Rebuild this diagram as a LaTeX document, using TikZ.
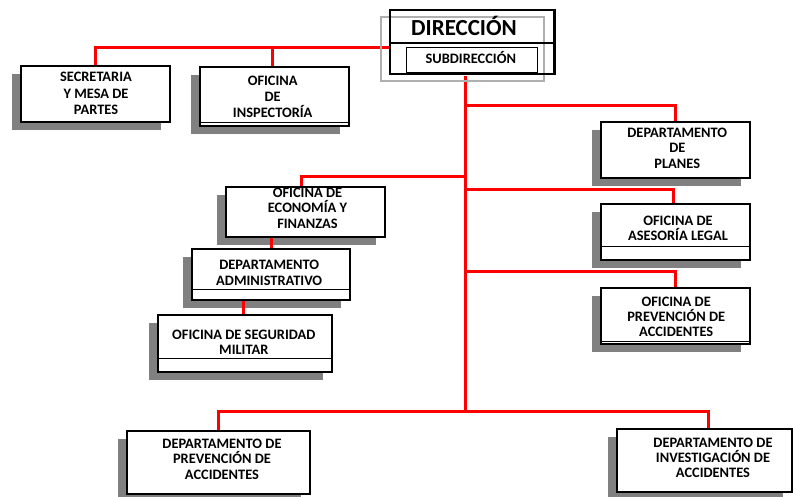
\documentclass[tikz,border=0pt]{standalone}
\usepackage{fontspec}
\setmainfont{Carlito}
\usetikzlibrary{shadows,backgrounds}
\definecolor{linkred}{RGB}{255,0,0}
\definecolor{shade}{RGB}{128,128,128}
\definecolor{framegray}{RGB}{175,175,175}
\begin{document}
\begin{tikzpicture}[x=1pt,y=-1pt,
  unit/.style={draw=black, line width=1.3pt, fill=white, inner sep=0pt,
    drop shadow={shadow xshift=-9pt, shadow yshift=-8pt, fill=shade, opacity=1}},
  caption/.style={align=center, inner sep=0pt, anchor=base,
    font=\fontsize{14.4}{#1}\selectfont\bfseries},
  caption/.default=15.5,
  link/.style={draw=linkred, line width=3pt, line cap=rect},
  rule/.style={line width=0.8pt}]
\useasboundingbox (0,0) rectangle (793,497);

% head office
\node[draw=framegray, line width=1.3pt, minimum width=163pt, minimum height=64pt, inner sep=0pt] (dirg) at (462.5,49) {};
\node[draw, line width=1.6pt, minimum width=165pt, minimum height=64pt, inner sep=0pt] (dir) at (472.5,42) {};
\draw[line width=1.2pt] ([yshift=-1pt]dir.west) -- ([yshift=-1pt]dir.east);
\draw[line width=1.3pt] ([xshift=-2.5pt]dir.north east) -- ([xshift=-2.5pt]dir.south east);
\node[draw, line width=1pt, minimum width=131pt, minimum height=25pt, inner sep=0pt] (sub) at (471.5,60.5) {};
\node[anchor=base, inner sep=0pt, font=\fontsize{23}{25}\selectfont\bfseries] (dirT) at (464,36) {DIRECCIÓN};
\node[caption] (subT) at (470.8,63.3) {SUBDIRECCIÓN};

% units
\node[unit, minimum width=149pt, minimum height=56pt] (sec) at (95.5,94) {};
\node[unit, minimum width=149pt, minimum height=59pt] (insp) at (274.5,96.5) {};
\node[unit, minimum width=149pt, minimum height=56pt] (plan) at (675.5,150) {};
\node[unit, minimum width=149pt, minimum height=56pt] (ases) at (675.5,232) {};
\node[unit, minimum width=149pt, minimum height=56pt] (prev) at (675.5,316) {};
\node[unit, minimum width=159pt, minimum height=50pt] (econ) at (305.5,212) {};
\node[unit, minimum width=158pt, minimum height=51pt] (admin) at (271,274.5) {};
\node[unit, minimum width=174pt, minimum height=57pt] (seg) at (245,343.5) {};
\node[unit, minimum width=183pt, minimum height=63pt] (dprev) at (218.5,462.5) {};
\node[unit, minimum width=175pt, minimum height=63pt] (dinv) at (704.5,460.5) {};

% inner rules near the lower edges
\draw[rule] ([yshift=4pt]insp.south west) -- ([yshift=4pt]insp.south east);
\draw[rule] ([yshift=14pt]ases.south west) -- ([yshift=14pt]ases.south east);
\draw[rule] ([yshift=3pt]prev.south west) -- ([yshift=3pt]prev.south east);
\draw[rule] ([yshift=11pt]admin.south west) -- ([yshift=11pt]admin.south east);
\draw[rule] ([yshift=14pt]seg.south west) -- ([yshift=14pt]seg.south east);

% labels (anchored on the baseline of their last line)
\node[caption=16.5] (secT) at (96,115) {SECRETARIA\\Y MESA DE\\PARTES};
\node[caption=16] (inspT) at (272.7,117.7) {OFICINA\\DE\\INSPECTORÍA};
\node[caption] (planT) at (677.3,168.3) {DEPARTAMENTO\\DE\\PLANES};
\node[caption=15] (asesT) at (678,240.7) {OFICINA DE\\ASESORÍA LEGAL};
\node[caption=15] (prevT) at (676.2,336.7) {OFICINA DE\\PREVENCIÓN DE\\ACCIDENTES};
\node[caption=15.5] (econT) at (307.5,228.3) {OFICINA DE\\ECONOMÍA Y\\FINANZAS};
\node[caption=16] (adminT) at (269.2,286) {DEPARTAMENTO\\ADMINISTRATIVO};
\node[caption=15] (segT) at (243.8,354) {OFICINA DE SEGURIDAD\\MILITAR};
\node[caption=15.3] (dprevT) at (222,479) {DEPARTAMENTO DE\\PREVENCIÓN DE\\ACCIDENTES};
\node[caption=15.3] (dinvT) at (713,477.7) {DEPARTAMENTO DE\\INVESTIGACIÓN DE\\ACCIDENTES};

% short links between stacked units, over the shadows
\draw[link, line cap=butt] (admin.north) -- (admin.north |- econ.south);
\draw[link, line cap=butt] ([xshift=-2pt]seg.north) -- ([xshift=-2pt]seg.north |- admin.south);

% main connectors
\coordinate (trunkTop) at (465,78);
\coordinate (trunkEnd) at (465,411);
\coordinate (jPlan) at (465,106);
\coordinate (jEcon) at (465,177);
\coordinate (jAses) at (465,190);
\coordinate (jPrev) at (465,272);
\begin{scope}[on background layer]
\fill[white] (0,0) rectangle (793,497);
\draw[link] (sub.north -| dir.west) -| (sec.north);
\draw[link] ([xshift=-2.5pt]insp.north) -- ([xshift=-2.5pt]insp.north |- sub.north);
\draw[link] (trunkTop) -- (trunkEnd);
\draw[link] (jPlan) -| (plan.north);
\draw[link] (jEcon) -| ([xshift=-4pt]econ.north);
\draw[link] (jAses) -| ([xshift=-2pt]ases.north);
\draw[link] (jPrev) -| (prev.north);
\draw[link] (trunkEnd) -| (dprev.north);
\draw[link] (trunkEnd) -| ([xshift=3.5pt]dinv.north);
\end{scope}
\end{tikzpicture}
\end{document}
